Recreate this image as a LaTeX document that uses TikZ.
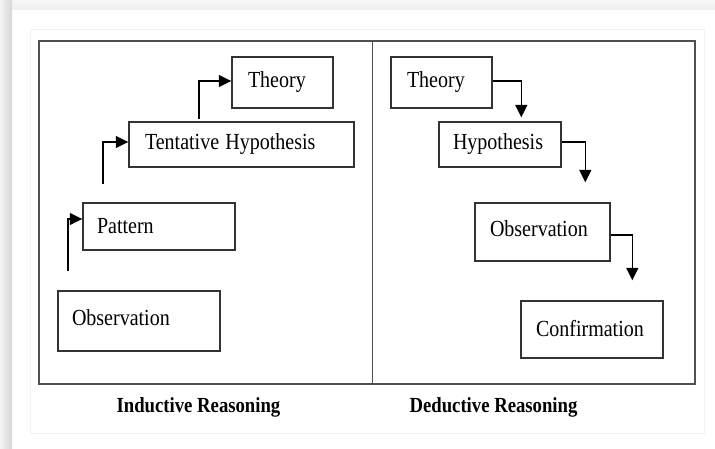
\documentclass[tikz,border=0pt]{standalone}
\usepackage{fontspec}
\setmainfont{Liberation Serif}[FakeStretch=0.87]
\usetikzlibrary{arrows.meta}
\definecolor{framecol}{HTML}{505050}
\definecolor{boxcol}{HTML}{333333}
\tikzset{
  box/.style={draw=boxcol, line width=1.4pt, rectangle, align=left, inner ysep=0pt,
    font=\fontsize{23}{26}\selectfont},
  arr/.style={draw=black, line width=1.4pt, -{Triangle[length=12.5pt,width=12pt]}},
  caption/.style={font=\fontsize{21.5}{24}\selectfont\bfseries, inner sep=0pt},
}
\begin{document}
\begin{tikzpicture}[x=1pt,y=-1pt]
\useasboundingbox (0,0) rectangle (715,449);
% page shadow
\shade[left color=black!4, right color=black!16] (0,0) rectangle (12,449);
\shade[top color=black!3, bottom color=black!7] (12,0) rectangle (715,10);
\draw[black!5, line width=0.6pt] (30,29) rectangle (704,433);
% frame
\draw[framecol, line width=1.5pt] (39,41) rectangle (695,384);
\draw[framecol, line width=1.5pt] (372.5,41) -- (372.5,384);
% left: inductive
\node[box, minimum height=51pt, inner xsep=16pt, text width=69pt] (LTheory) at (282.5,82.5) {\raisebox{-2pt}{Theory}};
\node[box, minimum height=45pt, inner xsep=16pt, text width=193pt] (LTH) at (241.5,144.5) {\raisebox{-2.5pt}{Tentative\hspace{-1.5pt} Hypothesis}};
\node[box, minimum height=47pt, inner xsep=14pt, text width=124pt] (LPat) at (159,226.5) {Pattern};
\node[box, minimum height=60pt, inner xsep=14pt, text width=134pt] (LObs) at (139,321) {\raisebox{6pt}{Observation}};
\coordinate (s1) at (68,271);
\coordinate (s2) at (103,184);
\coordinate (s3) at (199,119);
\draw[arr] (s1) |- ([yshift=7.5pt]LPat.west);
\draw[arr] (s2) |- ([yshift=2.5pt]LTH.west);
\draw[arr] (s3) |- ([yshift=1.5pt]LTheory.west);
% right: deductive
\node[box, minimum height=51pt, inner xsep=16pt, text width=69pt] (RTheory) at (441.5,82.5) {\raisebox{-2pt}{Theory}};
\node[box, minimum height=45pt, inner xsep=14pt, text width=94pt] (RHyp) at (500,144.5) {\raisebox{-2.5pt}{Hypothesis}};
\node[box, minimum height=58pt, inner xsep=15pt, text width=105pt] (RObs) at (542.5,232) {\raisebox{6pt}{Observation}};
\node[box, minimum height=57pt, inner xsep=15pt, text width=112pt] (RConf) at (592,329.5) {\raisebox{3pt}{Confirmation}};
\draw[arr] ([yshift=1.5pt]RTheory.east) -| ([xshift=83pt,yshift=4pt]RHyp.north west);
\draw[arr] ([yshift=2.5pt]RHyp.east) -| ([xshift=111pt,yshift=20pt]RObs.north west);
\draw[arr] ([yshift=-3pt]RObs.east) -| ([xshift=112pt,yshift=20pt]RConf.north west);
% captions
\node[caption] (cind) at (198.5,407) {Inductive Reasoning};
\node[caption] (cded) at (493.5,407) {Deductive Reasoning};
\end{tikzpicture}
\end{document}
